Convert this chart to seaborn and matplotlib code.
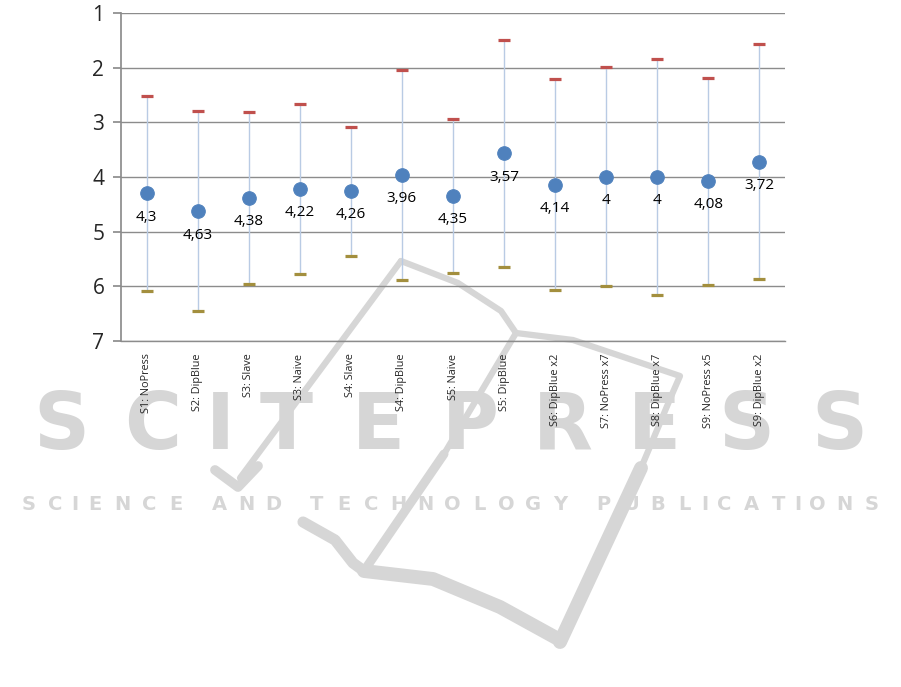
import numpy as np
import pandas as pd
import seaborn as sns
import matplotlib.pyplot as plt
from matplotlib.lines import Line2D

# data
sessoes = ['S1: NoPress', 'S2: DipBlue', 'S3: Slave', 'S3: Naive', 'S4: Slave',
           'S4: DipBlue', 'S5: Naive', 'S5: DipBlue', 'S6: DipBlue x2',
           'S7: NoPress x7', 'S8: DipBlue x7', 'S9: NoPress x5', 'S9: DipBlue x2']
media = [4.3, 4.63, 4.38, 4.22, 4.26, 3.96, 4.35, 3.57, 4.14, 4, 4, 4.08, 3.72]
melhor = [2.52, 2.80, 2.81, 2.66, 3.08, 2.04, 2.94, 1.49, 2.21, 1.99, 1.84, 2.18, 1.57]
pior = [6.08, 6.46, 5.95, 5.78, 5.44, 5.88, 5.76, 5.65, 6.07, 6.00, 6.15, 5.98, 5.86]

df = pd.DataFrame({'sessao': sessoes, 'media': media,
                   'melhor': melhor, 'pior': pior})

sns.set_theme(style='white')
plt.rcParams['font.family'] = ['DejaVu Sans']

W, H = 901, 687
fig = plt.figure(figsize=(W / 100, H / 100), dpi=100)
ax = fig.add_axes([121 / W, 1 - 341 / H, 664 / W, 328 / H])
ax.patch.set_alpha(0)

# marca d'agua da pagina de origem (logotipo + texto), atras do grafico
cinza = '#d6d6d6'
tracos = [
    ([(240, 478), (401, 261)], 4.5),
    ([(215, 470), (238, 487), (258, 466)], 7),
    ([(401, 261), (458, 283), (501, 311), (516, 333), (573, 340),
      (680, 376), (673, 392), (641, 468)], 4.5),
    ([(641, 468), (560, 642)], 10),
    ([(303, 522), (335, 540), (353, 563), (364, 571)], 8),
    ([(364, 571), (433, 579), (500, 607), (560, 640)], 10),
    ([(516, 333), (444, 454)], 4.5),
    ([(444, 454), (366, 568)], 6.5),
]
for tr, lw in tracos:
    xs = [p[0] / W for p in tr]
    ys = [1 - p[1] / H for p in tr]
    fig.add_artist(Line2D(xs, ys, transform=fig.transFigure, color=cinza,
                          lw=lw, solid_joinstyle='round',
                          solid_capstyle='round', zorder=-2))


def texto_espacado(txt, x0, x1, y, tam):
    pesos = [0.45 if c == 'I' else 0.6 if c == ' ' else 1.0 for c in txt]
    un = (x1 - x0) / sum(pesos)
    x = x0
    for c, p in zip(txt, pesos):
        if c != ' ':
            fig.text((x + p * un / 2) / W, 1 - y / H, c, ha='center',
                     va='center', fontsize=tam, fontweight='bold',
                     color=cinza, zorder=-1)
        x += p * un


texto_espacado('SCITEPRESS', 15, 885, 427, 56)
texto_espacado('SCIENCE AND TECHNOLOGY PUBLICATIONS', 15, 885, 504, 14)

pos = np.arange(len(sessoes))
ax.vlines(pos, df['melhor'], df['pior'], color='#b9cbe4', lw=1, zorder=2)
sns.scatterplot(data=df, x='sessao', y='melhor', marker='_', s=70,
                linewidth=2.3, color='#c0504d', ax=ax, zorder=3)
sns.scatterplot(data=df, x='sessao', y='pior', marker='_', s=70,
                linewidth=2.3, color='#a38f3e', ax=ax, zorder=3)
sns.scatterplot(data=df, x='sessao', y='media', s=95, color='#4f81bd',
                edgecolor='#4f81bd', ax=ax, zorder=4)

for i, v in enumerate(media):
    ax.annotate(f'{v:g}'.replace('.', ','), (i, v), xytext=(0, -17),
                textcoords='offset points', ha='center', va='center',
                fontsize=11, family=['Open Sans', 'DejaVu Sans'], color='black')

ax.set_ylim(7, 1)
ax.set_xlim(-0.5, len(sessoes) - 0.5)
ax.set_yticks([1, 2, 3, 4, 5, 6, 7])
ax.grid(axis='y', color='#8c8c8c', lw=1)
ax.set_axisbelow(True)
for s in ['top', 'right']:
    ax.spines[s].set_visible(False)
ax.spines['left'].set_color('#8c8c8c')
ax.spines['bottom'].set_color('#8c8c8c')
ax.spines['bottom'].set_linewidth(1)
ax.tick_params(axis='y', left=True, length=6, color='#8c8c8c', labelsize=15,
               pad=6)
ax.tick_params(axis='x', bottom=False, labelsize=7.8, rotation=90, pad=3)
for t in ax.get_yticklabels() + ax.get_xticklabels():
    t.set_family(['Open Sans', 'DejaVu Sans'])
ax.set_xlabel('')
ax.set_ylabel('')

fig.savefig('out.png', dpi=100)
